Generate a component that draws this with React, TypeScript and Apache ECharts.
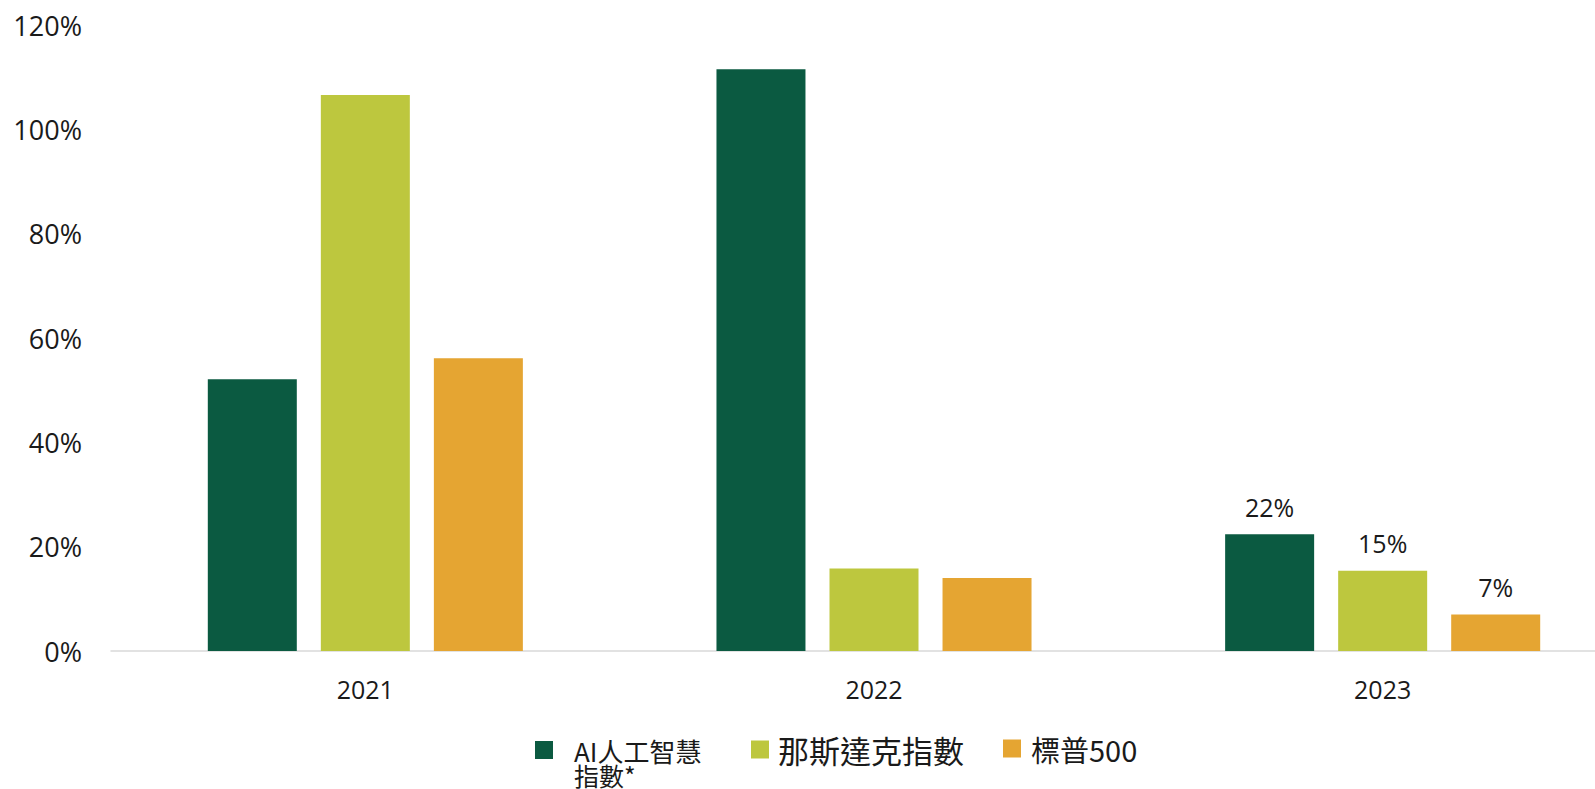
import React, { useEffect, useRef } from "react";
import * as echarts from "echarts";

const categories = ["2021", "2022", "2023"];
const seriesNames = ["AI人工智慧指數*", "那斯達克指數", "標普500"];
const aiIndex = [52.1, 111.5, 22.4];
const nasdaq = [106.6, 15.8, 15.4];
const sp500 = [56.1, 14.0, 7.0];
const yTicks = [0, 20, 40, 60, 80, 100, 120];
const labeledCategory = "2023";
const firstLegendLines = ["AI人工智慧", "指數*"];

const colors = ["#0B5A41", "#BDC73E", "#E5A532"];

export default function App() {
  const ref = useRef<HTMLDivElement>(null);
  useEffect(() => {
    if (!ref.current) return;
    const chart = echarts.init(ref.current, undefined, { renderer: "svg" });
    const allValues = [aiIndex, nasdaq, sp500];
    const series = allValues.map((vals, s) => ({
      name: seriesNames[s],
      type: "bar",
      barWidth: 89,
      barGap: "27%",
      itemStyle: { color: colors[s] },
      label: {
        show: false,
        position: "top",
        distance: 15,
        fontFamily: "Open Sans",
        fontSize: 25,
        color: "#1a1a1a",
        formatter: (p: any) => Math.round(p.value) + "%",
      },
      data: vals.map((v, i) => ({
        value: v,
        label: { show: categories[i] === labeledCategory },
      })),
    }));
    const legendCommon = {
      orient: "horizontal",
      padding: 0,
      itemWidth: 18,
      itemHeight: 18,
      icon: "rect",
      selectedMode: false,
    };
    chart.setOption({
      animation: false,
      backgroundColor: "#ffffff",
      grid: { left: 111, top: 25, width: 1526, height: 626 },
      xAxis: {
        type: "category",
        data: categories,
        axisLine: { lineStyle: { color: "#d9d9d9", width: 1.5 } },
        axisTick: { show: false },
        axisLabel: {
          fontFamily: "Open Sans",
          fontSize: 25,
          color: "#1a1a1a",
          margin: 25,
        },
      },
      yAxis: {
        type: "value",
        min: yTicks[0],
        max: yTicks[yTicks.length - 1],
        interval: 20,
        axisLine: { show: false },
        axisTick: { show: false },
        splitLine: { show: false },
        axisLabel: {
          fontFamily: "Open Sans",
          fontSize: 27,
          color: "#1a1a1a",
          margin: 29,
          formatter: "{value}%",
        },
      },
      legend: [
        {
          ...legendCommon,
          left: 535,
          top: 737,
          data: [seriesNames[0]],
          formatter: () => firstLegendLines[0],
          textStyle: {
            fontFamily: "Noto Sans CJK TC",
            fontSize: 26,
            lineHeight: 25,
            color: "#1a1a1a",
            padding: [0, 0, 0, 16],
          },
        },
        {
          ...legendCommon,
          left: 751,
          top: 734,
          data: [seriesNames[1]],
          textStyle: {
            fontFamily: "Noto Sans CJK TC",
            fontSize: 31,
            color: "#1a1a1a",
            padding: [0, 0, 0, 4],
          },
        },
        {
          ...legendCommon,
          left: 1003,
          top: 734,
          data: [seriesNames[2]],
          textStyle: {
            fontFamily: "Noto Sans CJK TC",
            fontSize: 29,
            color: "#1a1a1a",
            padding: [0, 0, 0, 5],
          },
        },
      ],
      graphic: [
        {
          type: "text",
          x: 574,
          y: 775,
          style: {
            text: firstLegendLines[1],
            fontFamily: "Noto Sans CJK TC",
            fontSize: 25,
            fill: "#1a1a1a",
            verticalAlign: "middle",
          },
        },
      ],
      series,
    });
    return () => chart.dispose();
  }, []);
  return (
    <div
      style={{
        position: "fixed",
        left: 0,
        top: 0,
        width: 1595,
        height: 789,
        overflow: "hidden",
        background: "#fff",
      }}
    >
      <div ref={ref} style={{ width: 1640, height: 789 }} />
    </div>
  );
}
